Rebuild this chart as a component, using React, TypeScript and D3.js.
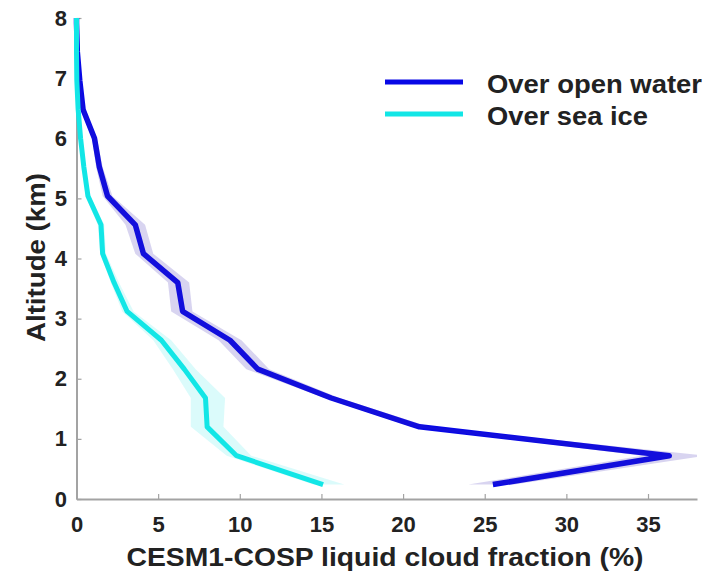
import React, { useEffect, useRef } from "react";
import * as d3 from "d3";

// Altitude bin centres (km); the 8.40 level runs past the top of the axes and is clipped.
const altitudeKm = [0.24, 0.72, 1.2, 1.68, 2.16, 2.64, 3.12, 3.6, 4.08, 4.56, 5.04, 5.52, 6.0, 6.48, 6.96, 7.44, 7.92, 8.4];

// Liquid cloud fraction (%) over open water: mean and spread
const openWater = [25.5, 36.3, 21.0, 15.6, 11.1, 9.4, 6.5, 6.2, 4.1, 3.6, 1.9, 1.4, 1.1, 0.4, 0.2, 0.05, 0, 0];
const openWaterLow = [24.0, 34.6, 20.5, 15.2, 10.4, 8.7, 5.8, 5.6, 3.6, 3.0, 1.6, 1.2, 0.95, 0.3, 0.15, 0.02, 0, 0];
const openWaterHigh = [26.8, 38.5, 21.6, 16.1, 11.8, 10.1, 7.1, 6.9, 4.7, 4.2, 2.2, 1.6, 1.25, 0.5, 0.25, 0.08, 0, 0];

// Liquid cloud fraction (%) over sea ice: mean and spread
const seaIce = [15.1, 9.8, 8.0, 7.9, 6.6, 5.2, 3.1, 2.3, 1.6, 1.5, 0.7, 0.45, 0.25, 0.1, 0.02, 0, 0, 0];
const seaIceLow = [14.5, 9.2, 7.0, 7.0, 5.9, 4.7, 2.8, 2.1, 1.45, 1.3, 0.55, 0.38, 0.2, 0.08, 0.01, 0, 0, 0];
const seaIceHigh = [16.4, 10.7, 9.0, 9.1, 7.3, 5.8, 3.5, 2.6, 1.8, 1.7, 0.85, 0.52, 0.3, 0.12, 0.03, 0, 0, 0];

const xTicks = [0, 5, 10, 15, 20, 25, 30, 35];
const yTicks = [0, 1, 2, 3, 4, 5, 6, 7, 8];

const seriesNames = ["Over open water", "Over sea ice"];
const xTitle = "CESM1-COSP liquid cloud fraction (%)";
const yTitle = "Altitude (km)";

const W = 721;
const H = 573;
const FONT = "'Liberation Sans', Arial, Helvetica, sans-serif";
const TEXT = "#222222";
const AXIS = "#a3a3a3";
const BLUE = "#0808e6";
const CYAN = "#12e6e6";

export default function App() {
  const xAxisRef = useRef<SVGGElement>(null);
  const yAxisRef = useRef<SVGGElement>(null);

  const x = d3.scaleLinear().domain([0, 38]).range([76.5, 697]);
  const y = d3.scaleLinear().domain([0, 8]).range([499, 18]);

  type Row = { alt: number; v: number; lo: number; hi: number };
  const rows = (v: number[], lo: number[], hi: number[]): Row[] =>
    altitudeKm.map((alt, i) => ({ alt, v: v[i], lo: lo[i], hi: hi[i] }));

  const water = rows(openWater, openWaterLow, openWaterHigh);
  const ice = rows(seaIce, seaIceLow, seaIceHigh);

  const line = d3
    .line<Row>()
    .x((d) => x(d.v))
    .y((d) => y(d.alt));
  const band = d3
    .area<Row>()
    .y((d) => y(d.alt))
    .x0((d) => x(d.lo))
    .x1((d) => x(d.hi));

  useEffect(() => {
    const gx = d3.select(xAxisRef.current!);
    gx.call(
      d3
        .axisBottom(x)
        .tickValues(xTicks)
        .tickSizeInner(-5)
        .tickSizeOuter(0)
        .tickPadding(17)
        .tickFormat(d3.format("d"))
    );
    const gy = d3.select(yAxisRef.current!);
    gy.call(
      d3
        .axisLeft(y)
        .tickValues(yTicks)
        .tickSizeInner(-5)
        .tickSizeOuter(0)
        .tickPadding(9.5)
        .tickFormat(d3.format("d"))
    );
    [gx, gy].forEach((g) => {
      g.select(".domain").attr("stroke", AXIS).attr("stroke-width", 2);
      g.selectAll(".tick line").attr("stroke", AXIS).attr("stroke-width", 1.2);
      g.selectAll(".tick text")
        .attr("fill", TEXT)
        .style("font-family", FONT)
        .style("font-weight", "bold")
        .style("font-size", "22px");
    });
  }, []);

  return (
    <svg
      width={W}
      height={H}
      style={{ position: "absolute", left: 0, top: 0, background: "#fff" }}
    >
      <defs>
        <clipPath id="plot-clip">
          <rect x={0} y={18} width={697} height={H - 18} />
        </clipPath>
      </defs>

      <g ref={xAxisRef} transform={`translate(0,${y(0)})`} />
      <g ref={yAxisRef} transform={`translate(${x(0)},0)`} />

      <g clipPath="url(#plot-clip)">
        {/* open water profile, spread drawn over the line */}
        <path d={line(water) ?? ""} fill="none" stroke={BLUE} strokeWidth={5.5} strokeLinejoin="round" />
        <path d={band(water) ?? ""} fill="#3a28b4" fillOpacity={0.2} stroke="none" />
        {/* sea ice profile */}
        <path d={band(ice) ?? ""} fill="#00e0e0" fillOpacity={0.14} stroke="none" />
        <path d={line(ice) ?? ""} fill="none" stroke={CYAN} strokeWidth={5} strokeLinejoin="round" />
      </g>

      {/* legend */}
      <g>
        <line x1={385} x2={463} y1={82} y2={82} stroke={BLUE} strokeWidth={5} />
        <line x1={385} x2={463} y1={114} y2={114} stroke={CYAN} strokeWidth={5} />
        <text x={487} y={93} fill={TEXT} fontFamily={FONT} fontWeight="bold" fontSize={25} textLength={215} lengthAdjust="spacingAndGlyphs">
          {seriesNames[0]}
        </text>
        <text x={487} y={125} fill={TEXT} fontFamily={FONT} fontWeight="bold" fontSize={25} textLength={161} lengthAdjust="spacingAndGlyphs">
          {seriesNames[1]}
        </text>
      </g>

      {/* axis titles */}
      <text x={385} y={566} textAnchor="middle" fill={TEXT} fontFamily={FONT} fontWeight="bold" fontSize={26} textLength={517} lengthAdjust="spacingAndGlyphs">
        {xTitle}
      </text>
      <text transform="translate(45,257.5) rotate(-90)" textAnchor="middle" fill={TEXT} fontFamily={FONT} fontWeight="bold" fontSize={26} textLength={169} lengthAdjust="spacingAndGlyphs">
        {yTitle}
      </text>
    </svg>
  );
}
